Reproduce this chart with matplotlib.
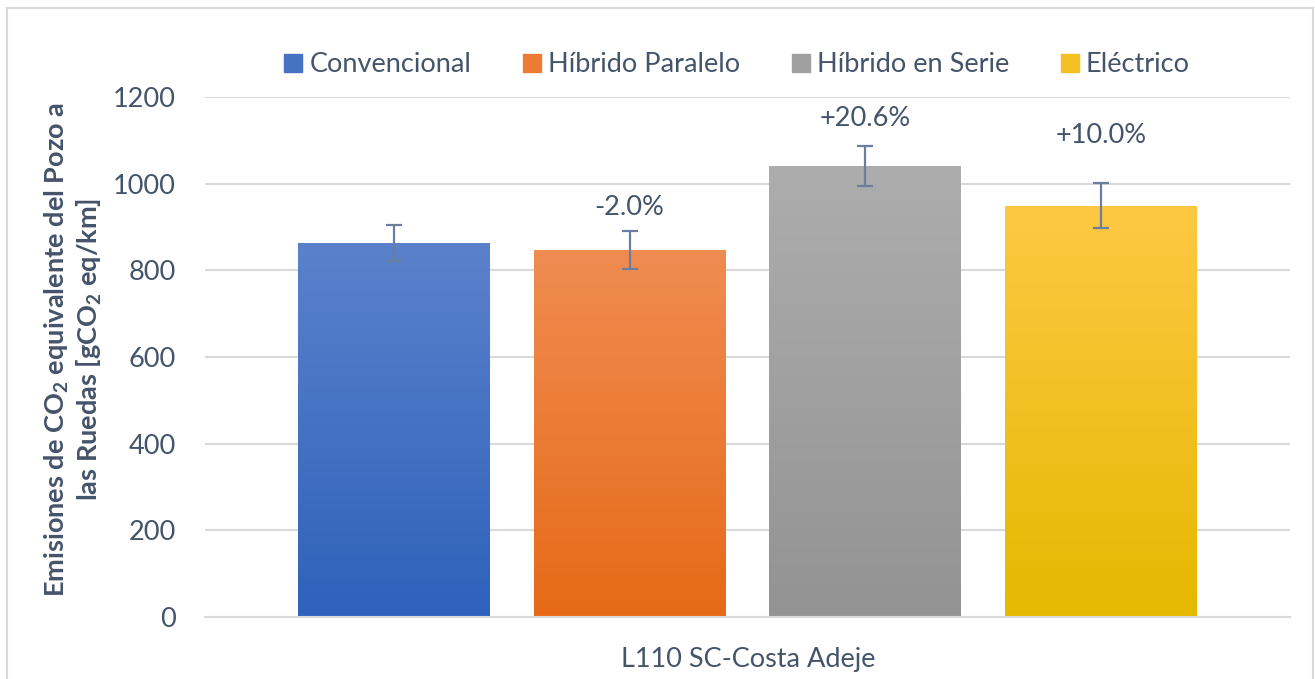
import matplotlib
matplotlib.use("Agg")
import matplotlib.pyplot as plt
import numpy as np
from matplotlib.colors import LinearSegmentedColormap, to_rgb
from matplotlib.patches import Patch, Rectangle

plt.rcParams["font.family"] = ["Lato", "DejaVu Sans"]
plt.rcParams["mathtext.fontset"] = "custom"
plt.rcParams["mathtext.rm"] = "Lato"
plt.rcParams["mathtext.bf"] = "Lato:bold"

# emisiones del pozo a las ruedas por tecnologia de autobus
series = ["Convencional", "Híbrido Paralelo", "Híbrido en Serie", "Eléctrico"]
values = [863, 846, 1041, 949]
errors = [42, 44, 47, 52]
category = "L110 SC-Costa Adeje"

# degradado vertical de cada barra (arriba, abajo)
top_colors = ["#5B81CB", "#F08C52", "#ADADAD", "#FFC844"]
bottom_colors = ["#2E62BB", "#E66A17", "#939393", "#E5B800"]

text_color = "#44546A"
grid_color = "#D9D9D9"
fs = 19.5

fig = plt.figure(figsize=(13.15, 6.79), dpi=100)
ax = fig.add_axes([205 / 1315, 1 - 617 / 679, (1290 - 205) / 1315, (617 - 97) / 679])

x = np.arange(len(series))
width = 0.8136
bars = ax.bar(x, values, width=width, color="none", zorder=2)

for bar, c_top, c_bot in zip(bars, top_colors, bottom_colors):
    bx, by = bar.get_x(), bar.get_y()
    bw, bh = bar.get_width(), bar.get_height()
    cmap = LinearSegmentedColormap.from_list("g", [c_bot, c_top])
    grad = np.linspace(0, 1, 256).reshape(-1, 1)
    im = ax.imshow(grad, cmap=cmap, origin="lower", aspect="auto",
                   extent=(bx, bx + bw, by, by + bh), zorder=2)
    im.set_clip_path(bar)

ax.errorbar(x, values, yerr=errors, fmt="none", ecolor="#6A7FA0",
            elinewidth=1.6, capsize=5.5, capthick=1.6, zorder=3)

# variacion respecto al autobus convencional
label_pad = [0, 17, 19.5, 34.5]
for i in range(1, len(values)):
    change = (values[i] / values[0] - 1) * 100
    ax.annotate(f"{change:+.1f}%", (x[i], values[i] + errors[i]),
                xytext=(0, label_pad[i]), textcoords="offset points",
                ha="center", va="center", fontsize=fs, color=text_color)

ax.set_xlim(-0.80, 3.80)
ax.set_ylim(0, 1200)
ax.set_yticks(range(0, 1201, 200))
ax.yaxis.grid(True, color=grid_color, linewidth=1.5)
ax.set_axisbelow(True)
for side in ["top", "right", "left"]:
    ax.spines[side].set_visible(False)
ax.spines["bottom"].set_color(grid_color)
ax.spines["bottom"].set_linewidth(1.5)
ax.tick_params(axis="y", length=0, pad=21, labelsize=fs, labelcolor=text_color)
ax.set_xticks([])

ax.set_ylabel("Emisiones de CO$_\\mathbf{2}$ equivalente del Pozo a\n"
              "las Ruedas [gCO$_\\mathbf{2}$ eq/km]",
              fontsize=fs, fontweight="bold", color=text_color,
              linespacing=1.15)
ax.yaxis.set_label_coords((73 - 205) / 1085, 0.515)
ax.yaxis.label.set_va("center")

fig.text(748 / 1315, 1 - 660 / 679, category, ha="center", va="center",
         fontsize=fs, color=text_color)

handles = [Patch(color=np.mean([to_rgb(a), to_rgb(b)], axis=0))
           for a, b in zip(top_colors, bottom_colors)]
fig.legend(handles, series, loc="center", bbox_to_anchor=(737 / 1315, 1 - 65 / 679),
           ncol=4, frameon=False, fontsize=fs, labelcolor=text_color,
           handlelength=0.67, handleheight=0.67, handletextpad=0.26,
           columnspacing=1.9)

# marco del grafico
fig.patches.append(Rectangle((7 / 1315, -0.05), (1313 - 7) / 1315, 1 - 8 / 679 + 0.05,
                             transform=fig.transFigure, fill=False,
                             edgecolor="#D9D9D9", linewidth=1.5))

fig.savefig("out.png", dpi=100)
